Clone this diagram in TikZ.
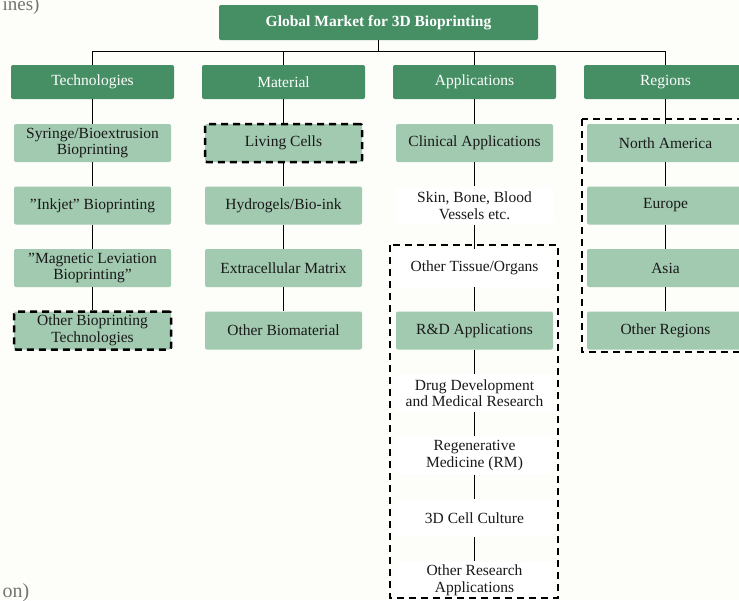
\documentclass[tikz,border=0pt]{standalone}
\usepackage{fontspec}
\setmainfont{Liberation Serif}
\usepackage{tikz}
\definecolor{marketgreen}{RGB}{70,143,101}
\definecolor{itemgreen}{RGB}{162,202,176}
\definecolor{paper}{RGB}{253,253,249}
\tikzset{
	topbox/.style={fill=marketgreen, text=white, rounded corners=2pt, minimum width=319pt, minimum height=35pt, font=\fontsize{15.5}{16.5}\selectfont\bfseries},
	headbox/.style={fill=marketgreen, text=white, rounded corners=2pt, minimum width=163pt, minimum height=34pt, font=\fontsize{15.5}{16.5}\selectfont},
	itembox/.style={fill=itemgreen, text=black!90, rounded corners=2pt, minimum width=157pt, minimum height=38pt, inner sep=0pt, align=center, font=\fontsize{15.5}{16.5}\selectfont},
	plainbox/.style={itembox, fill=white},
	markbox/.style={draw=black, line width=2.5pt, dash pattern=on 7pt off 5pt},
	link/.style={line width=0.9pt},
	groupline/.style={line width=2.5pt, dash pattern=on 7pt off 5pt}
}

\begin{document}
\begin{tikzpicture}[x=1pt, y=-1pt]
		%%%%% START %%%%%
		
		\fill[paper] (0, 0) rectangle (739, 600);
		\useasboundingbox (0, 0) rectangle (739, 600);
		
		\node[anchor=base west, text=black!55, font=\fontsize{19}{19}\selectfont] (cuttop) at (-1, 10) {ines)};
		\node[anchor=base west, text=black!55, font=\fontsize{20}{20}\selectfont] (cutbottom) at (-1, 597) {on)};
		
		\node[topbox] (title) at (378.5, 22.5) {Global Market for 3D Bioprinting};
		
		\node[headbox] (tech) at (92.5, 82) {Technologies};
		\node[headbox] (mat) at (283.5, 82) {Material};
		\node[headbox] (app) at (474.5, 82) {Applications};
		\node[headbox] (reg) at (665.5, 82) {Regions};
		
		\draw[link] (title.south) -- ++(0, 12);
		\draw[link] (tech.north) -- ++(0, -13) -| (reg.north);
		\draw[link] (mat.north) -- ++(0, -13);
		\draw[link] (app.north) -- ++(0, -13);
		
		% technologies
		\node[itembox] (syringe) at (92.5, 143) {Syringe/Bioextrusion\\Bioprinting};
		\node[itembox] (inkjet) at (92.5, 205.5) {''Inkjet'' Bioprinting};
		\node[itembox] (magnetic) at (92.5, 268) {''Magnetic Leviation\\Bioprinting''};
		\node[itembox, markbox] (othertech) at (92.5, 330.5) {Other Bioprinting\\Technologies};
		\draw[link] (tech) -- (syringe);
		\draw[link] (syringe) -- (inkjet);
		\draw[link] (inkjet) -- (magnetic);
		\draw[link] (magnetic) -- (othertech);
		
		% material
		\node[itembox, markbox] (cells) at (283.5, 143) {Living Cells};
		\node[itembox] (hydrogel) at (283.5, 205.5) {Hydrogels/Bio-ink};
		\node[itembox] (matrix) at (283.5, 268) {Extracellular Matrix};
		\node[itembox] (othermat) at (283.5, 330.5) {Other Biomaterial};
		\draw[link] (mat) -- (cells);
		\draw[link] (cells) -- (hydrogel);
		\draw[link] (hydrogel) -- (matrix);
		\draw[link] (matrix) -- (othermat);
		
		% applications
		\node[itembox] (clinical) at (474.5, 143) {Clinical Applications};
		\node[plainbox] (skin) at (474.5, 205.5) {Skin, Bone, Blood\\Vessels etc.};
		\node[plainbox] (tissue) at (474.5, 268) {Other Tissue/Organs};
		\node[itembox] (research) at (474.5, 330.5) {R\&D Applications};
		\node[plainbox] (drug) at (474.5, 393) {Drug Development\\and Medical Research};
		\node[plainbox] (regen) at (474.5, 455.5) {Regenerative\\Medicine (RM)};
		\node[plainbox] (culture) at (474.5, 518) {3D Cell Culture};
		\node[plainbox] (otherres) at (474.5, 580.5) {Other Research\\Applications};
		\draw[link] (app) -- (clinical);
		\draw[link] (clinical) -- (skin);
		\draw[link] (skin) -- (tissue);
		\draw[link] (tissue) -- (research);
		\draw[link] (research) -- (drug);
		\draw[link] (drug) -- (regen);
		\draw[link] (regen) -- (culture);
		\draw[link] (culture) -- (otherres);
		\draw[groupline] (390, 245) rectangle (558, 598);
		
		% regions
		\node[itembox] (america) at (665.5, 143) {North America};
		\node[itembox] (europe) at (665.5, 205.5) {Europe};
		\node[itembox] (asia) at (665.5, 268) {Asia};
		\node[itembox] (otherreg) at (665.5, 330.5) {Other Regions};
		\draw[link] (reg) -- (america);
		\draw[link] (america) -- (europe);
		\draw[link] (europe) -- (asia);
		\draw[link] (asia) -- (otherreg);
		\draw[groupline] (582, 119) rectangle (760, 352);
		
		%%%%% END %%%%%
	\end{tikzpicture}
\end{document}
